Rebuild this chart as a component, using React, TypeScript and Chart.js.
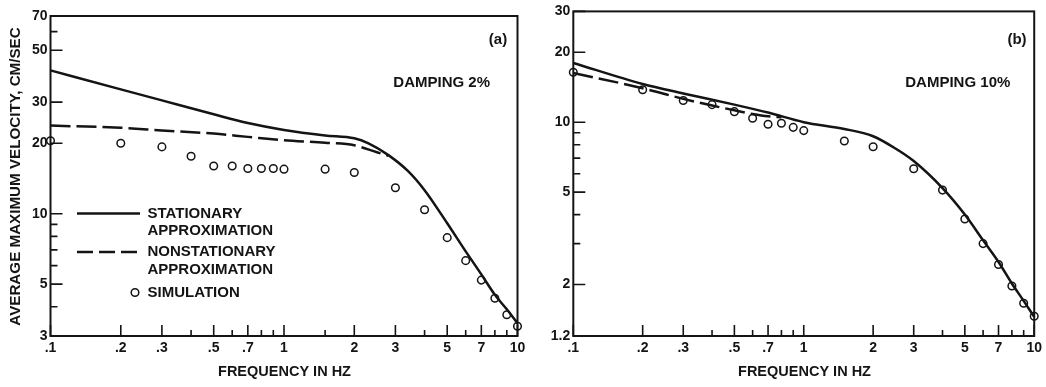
import React, { useEffect, useRef } from 'react';
import { Chart, registerables } from 'chart.js';
Chart.register(...registerables);

const FONT = '"Liberation Sans", Arial, Helvetica, sans-serif';
const INK = '#141414';

// ---------- Panel (a): damping 2% ----------
const A_FREQ_SOLID = [0.1, 0.2, 0.3, 0.5, 0.7, 1, 1.5, 2, 2.3, 2.8, 3.4, 4, 5, 6, 7, 8, 9, 10];
const A_SOLID = [41, 34, 30.5, 26.6, 24.4, 22.8, 21.6, 21.0, 20.0, 17.8, 15.2, 12.6, 9.1, 6.9, 5.5, 4.5, 3.9, 3.4];
const A_FREQ_DASH = [0.1, 0.2, 0.3, 0.5, 0.7, 1, 1.5, 2, 2.5, 2.8];
const A_DASH = [23.8, 23.3, 22.7, 22.0, 21.3, 20.6, 20.1, 19.6, 18.3, 17.7];
const A_FREQ_SIM = [0.1, 0.2, 0.3, 0.4, 0.5, 0.6, 0.7, 0.8, 0.9, 1, 1.5, 2, 3, 4, 5, 6, 7, 8, 9, 10];
const A_SIM = [20.5, 20.0, 19.3, 17.6, 16.0, 16.0, 15.6, 15.6, 15.6, 15.5, 15.5, 15.0, 12.9, 10.4, 7.9, 6.3, 5.2, 4.35, 3.7, 3.3];
const A_Y_LABELED = [3, 5, 10, 20, 30, 50, 70];
const A_Y_MINOR = [4, 6, 7, 8, 9, 60];
const A_X_MINOR = [0.4, 0.6, 0.8, 0.9, 1.5, 4, 6, 8, 9];

// ---------- Panel (b): damping 10% ----------
const B_FREQ_SOLID = [0.1, 0.2, 0.3, 0.5, 0.7, 1, 1.5, 2, 2.5, 3, 4, 5, 6, 7, 8, 9, 10];
const B_SOLID = [18.0, 14.6, 13.3, 11.9, 11.0, 10.0, 9.35, 8.7, 7.7, 6.8, 5.2, 4.0, 3.1, 2.5, 2.02, 1.7, 1.45];
const B_FREQ_DASH = [0.1, 0.2, 0.3, 0.4, 0.5, 0.6, 0.7, 0.8];
const B_DASH = [16.3, 14.0, 12.6, 11.8, 11.25, 10.85, 10.6, 10.5];
const B_FREQ_SIM = [0.1, 0.2, 0.3, 0.4, 0.5, 0.6, 0.7, 0.8, 0.9, 1, 1.5, 2, 3, 4, 5, 6, 7, 8, 9, 10];
const B_SIM = [16.4, 13.8, 12.4, 11.9, 11.1, 10.4, 9.8, 9.9, 9.5, 9.2, 8.3, 7.84, 6.3, 5.1, 3.83, 3.0, 2.44, 1.97, 1.66, 1.46];
const B_Y_LABELED = [1.2, 2, 5, 10, 20, 30];
const B_Y_MINOR = [3, 4, 6, 7, 8, 9];
const B_X_MINOR = [0.4, 0.6, 0.8, 0.9, 4, 6, 8, 9];

// ---------- shared ----------
const X_LABELED = [0.1, 0.2, 0.3, 0.5, 0.7, 1, 2, 3, 5, 7, 10];
const X_TITLE = 'FREQUENCY IN HZ';
const Y_TITLE = 'AVERAGE MAXIMUM VELOCITY, CM/SEC';
const LEGEND_SOLID = ['STATIONARY', 'APPROXIMATION'];
const LEGEND_DASH = ['NONSTATIONARY', 'APPROXIMATION'];
const LEGEND_SIM = 'SIMULATION';

const fmt = (v: number) => (v < 1 ? String(v).replace(/^0/, '') : String(v));
const pts = (xs: number[], ys: number[]) => xs.map((x, i) => ({ x, y: ys[i] }));

const frameTicks = {
  id: 'frameTicks',
  beforeDatasetsDraw(chart: any, _a: any, o: any) {
    const { ctx, chartArea: ca } = chart;
    const xs = chart.scales.x;
    const ys = chart.scales.y;
    ctx.save();
    ctx.strokeStyle = INK;
    ctx.lineWidth = 1.6;
    ctx.beginPath();
    for (const v of o.xMajor) {
      const p = xs.getPixelForValue(v);
      ctx.moveTo(p, ca.bottom);
      ctx.lineTo(p, ca.bottom - 11);
    }
    for (const v of o.xMinor) {
      const p = xs.getPixelForValue(v);
      ctx.moveTo(p, ca.bottom);
      ctx.lineTo(p, ca.bottom - 6);
    }
    for (const v of o.yMajor) {
      const p = ys.getPixelForValue(v);
      ctx.moveTo(ca.left, p);
      ctx.lineTo(ca.left + 12, p);
    }
    for (const v of o.yMinor) {
      const p = ys.getPixelForValue(v);
      ctx.moveTo(ca.left, p);
      ctx.lineTo(ca.left + 7, p);
    }
    ctx.stroke();
    ctx.lineWidth = 2;
    ctx.strokeRect(ca.left, ca.top, ca.right - ca.left, ca.bottom - ca.top);
    ctx.restore();
  },
};

const texts = {
  id: 'texts',
  afterDraw(chart: any, _a: any, o: any) {
    const { ctx } = chart;
    ctx.save();
    ctx.fillStyle = INK;
    ctx.textBaseline = 'middle';
    ctx.textAlign = 'center';
    ctx.font = `bold 14.5px ${FONT}`;
    ctx.fillText(X_TITLE, o.xTitleX, 372);
    ctx.font = `bold 15px ${FONT}`;
    ctx.fillText(o.tag, o.tagX, 40);
    ctx.fillText(o.damping, o.dampX, 83);
    if (o.yTitle) {
      ctx.save();
      ctx.translate(16, 176.5);
      ctx.rotate(-Math.PI / 2);
      ctx.font = `bold 15.2px ${FONT}`;
      ctx.fillText(Y_TITLE, 0, 0);
      ctx.restore();
    }
    if (o.legend) {
      ctx.strokeStyle = INK;
      ctx.lineWidth = 2.5;
      ctx.beginPath();
      ctx.moveTo(77, 213.5);
      ctx.lineTo(140, 213.5);
      ctx.stroke();
      ctx.setLineDash([16, 6]);
      ctx.beginPath();
      ctx.moveTo(77, 252);
      ctx.lineTo(140, 252);
      ctx.stroke();
      ctx.setLineDash([]);
      ctx.lineWidth = 1.5;
      ctx.beginPath();
      ctx.arc(135, 292.5, 3.8, 0, Math.PI * 2);
      ctx.stroke();
      ctx.textAlign = 'left';
      ctx.font = `bold 15px ${FONT}`;
      ctx.fillText(LEGEND_SOLID[0], 147.5, 213.5);
      ctx.fillText(LEGEND_SOLID[1], 147.5, 230.5);
      ctx.fillText(LEGEND_DASH[0], 147.5, 252);
      ctx.fillText(LEGEND_DASH[1], 147.5, 269.5);
      ctx.fillText(LEGEND_SIM, 147.5, 292.5);
    }
    ctx.restore();
  },
};

function makeConfig(p: any): any {
  return {
    type: 'line',
    data: {
      datasets: [
        {
          data: pts(p.fs, p.s),
          borderColor: INK,
          borderWidth: 2.5,
          pointRadius: 0,
          cubicInterpolationMode: 'monotone',
          fill: false,
        },
        {
          data: pts(p.fd, p.d),
          borderColor: INK,
          borderWidth: 2.5,
          borderDash: [20, 6],
          pointRadius: 0,
          cubicInterpolationMode: 'monotone',
          fill: false,
        },
        {
          data: pts(p.fm, p.m),
          showLine: false,
          pointRadius: 3.8,
          pointBorderWidth: 1.5,
          pointBorderColor: INK,
          pointBackgroundColor: 'rgba(255,255,255,0)',
          borderColor: INK,
          clip: false,
        },
      ],
    },
    options: {
      responsive: false,
      animation: false,
      events: [],
      layout: { autoPadding: false, padding: { left: 0, top: p.top, right: p.right, bottom: 21 } },
      plugins: {
        legend: { display: false },
        tooltip: { enabled: false },
        frameTicks: { xMajor: X_LABELED, xMinor: p.xMinor, yMajor: p.yLabeled, yMinor: p.yMinor },
        texts: p.texts,
      },
      scales: {
        x: {
          type: 'logarithmic',
          min: 0.1,
          max: 10,
          grid: { display: false, drawTicks: false },
          border: { display: false },
          afterBuildTicks: (s: any) => {
            s.ticks = X_LABELED.map((v) => ({ value: v }));
          },
          afterFit: (s: any) => {
            s.height = 30;
          },
          ticks: {
            autoSkip: false,
            maxRotation: 0,
            minRotation: 0,
            padding: 4,
            color: INK,
            font: { family: FONT, size: 14, weight: 'bold' },
            callback: (v: any) => fmt(Number(v)),
          },
        },
        y: {
          type: 'logarithmic',
          min: p.yMin,
          max: p.yMax,
          grid: { display: false, drawTicks: false },
          border: { display: false },
          afterBuildTicks: (s: any) => {
            s.ticks = p.yLabeled.map((v: number) => ({ value: v }));
          },
          afterFit: (s: any) => {
            s.width = p.left;
          },
          ticks: {
            autoSkip: false,
            padding: 3,
            color: INK,
            font: { family: FONT, size: 14, weight: 'bold' },
            callback: (v: any) => fmt(Number(v)),
          },
        },
      },
    },
    plugins: [frameTicks, texts],
  };
}

export default function App() {
  const refA = useRef<HTMLCanvasElement>(null);
  const refB = useRef<HTMLCanvasElement>(null);
  useEffect(() => {
    const a = new Chart(
      refA.current as HTMLCanvasElement,
      makeConfig({
        fs: A_FREQ_SOLID, s: A_SOLID, fd: A_FREQ_DASH, d: A_DASH, fm: A_FREQ_SIM, m: A_SIM,
        yMin: 3, yMax: 70, yLabeled: A_Y_LABELED, yMinor: A_Y_MINOR, xMinor: A_X_MINOR,
        top: 16, right: 12.5, left: 50.5,
        texts: { xTitleX: 284.5, tag: '(a)', tagX: 498, damping: 'DAMPING 2%', dampX: 441.7, yTitle: true, legend: true },
      })
    );
    const b = new Chart(
      refB.current as HTMLCanvasElement,
      makeConfig({
        fs: B_FREQ_SOLID, s: B_SOLID, fd: B_FREQ_DASH, d: B_DASH, fm: B_FREQ_SIM, m: B_SIM,
        yMin: 1.2, yMax: 30, yLabeled: B_Y_LABELED, yMinor: B_Y_MINOR, xMinor: B_X_MINOR,
        top: 10, right: 9.5, left: 43.3,
        texts: { xTitleX: 274.5, tag: '(b)', tagX: 487, damping: 'DAMPING 10%', dampX: 427.8, yTitle: false, legend: false },
      })
    );
    return () => {
      a.destroy();
      b.destroy();
    };
  }, []);
  return (
    <div style={{ position: 'fixed', left: 0, top: 0, width: 1046, height: 387, background: '#fff' }}>
      <canvas ref={refA} width={530} height={387} style={{ position: 'absolute', left: 0, top: 0, display: 'block' }} />
      <canvas ref={refB} width={516} height={387} style={{ position: 'absolute', left: 530, top: 0, display: 'block' }} />
    </div>
  );
}
